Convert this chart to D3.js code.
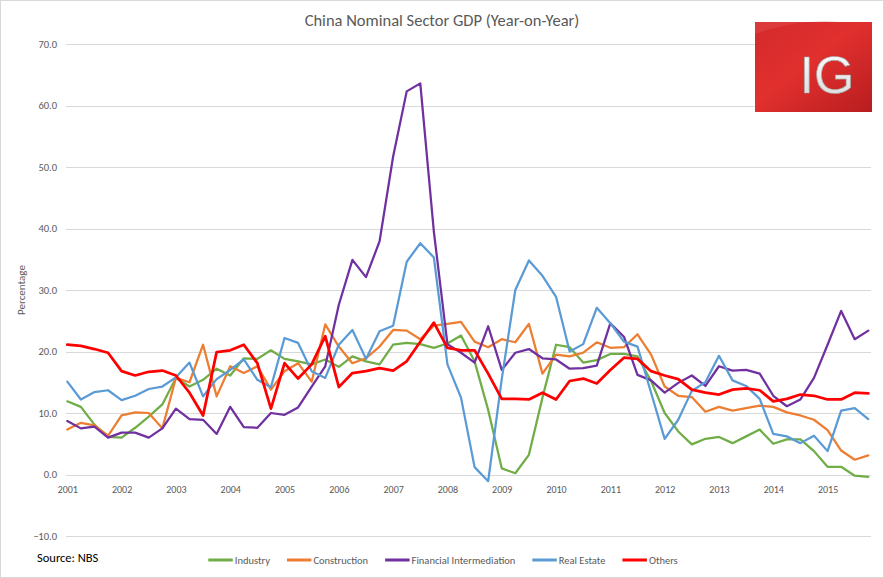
<!DOCTYPE html>
<html>
<head>
<meta charset="utf-8">
<script src="https://cdn.jsdelivr.net/npm/d3@7/dist/d3.min.js"></script>
<style>
  html, body { margin: 0; padding: 0; background: #ffffff; }
  svg { display: block; }
  text { font-family: Carlito, Calibri, Lato, sans-serif; }
</style>
</head>
<body>
<svg id="chart" width="884" height="578"></svg>
<script>
// ---------- data ----------
const years = ["2001","2002","2003","2004","2005","2006","2007","2008","2009","2010","2011","2012","2013","2014","2015"];
const quarters = ["Q1","Q2","Q3","Q4"];
const yTicks = [-10, 0, 10, 20, 30, 40, 50, 60, 70];

const industry = [
  11.9, 11.0, 8.1, 6.1,   6.0, 7.6, 9.4, 11.4,   15.7, 14.3, 15.4, 17.2,
  16.1, 18.9, 18.8, 20.2, 18.8, 18.4, 17.9, 18.7, 17.5, 19.2, 18.4, 17.9,
  21.1, 21.4, 21.2, 20.6, 21.3, 22.6, 18.4, 10.5, 1.0, 0.2, 3.2, 12.5,
  21.1, 20.7, 18.2, 18.6, 19.6, 19.6, 19.2, 15.2, 10.0, 7.0, 4.9, 5.8,
  6.1, 5.1, 6.2, 7.3,     5.0, 5.7, 5.7, 3.8,     1.25, 1.25, -0.2, -0.4
];
const construction = [
  7.3, 8.4, 8.0, 6.3,     9.6, 10.1, 10.0, 7.5,   15.7, 15.0, 21.1, 12.7,
  17.6, 16.5, 17.6, 13.8, 16.8, 18.1, 15.1, 24.4, 20.8, 18.1, 18.9, 20.8,
  23.5, 23.4, 22.0, 24.2, 24.5, 24.8, 21.6, 20.7, 22.0, 21.5, 24.5, 16.4,
  19.5, 19.2, 19.8, 21.5, 20.6, 20.7, 22.8, 19.5, 14.3, 12.8, 12.6, 10.2,
  11.0, 10.4, 10.8, 11.2, 11.0, 10.1, 9.6, 8.9,   7.2, 3.9, 2.4, 3.1
];
const financial = [
  8.7, 7.5, 7.8, 6.0,     6.8, 6.8, 6.0, 7.5,     10.7, 9.0, 8.9, 6.6,
  11.0, 7.7, 7.6, 10.0,   9.7, 10.9, 14.3, 17.6,  27.6, 34.9, 32.1, 37.9,
  51.7, 62.3, 63.6, 39.5, 21.2, 19.8, 18.2, 24.1, 17.0, 19.8, 20.4, 18.9,
  18.7, 17.2, 17.3, 17.7, 24.6, 22.4, 16.2, 15.3, 13.3, 14.9, 16.1, 14.4,
  17.6, 16.9, 17.0, 16.4, 12.8, 11.1, 12.2, 15.7, 21.1, 26.6, 22.0, 23.4
];
const realEstate = [
  15.1, 12.2, 13.4, 13.7, 12.1, 12.8, 13.9, 14.3, 15.8, 18.2, 12.7, 15.5,
  17.0, 18.7, 15.4, 14.2, 22.2, 21.4, 16.8, 15.7, 21.1, 23.5, 18.8, 23.3,
  24.2, 34.6, 37.6, 35.3, 17.9, 12.5, 1.2, -1.1,  15.5, 30.0, 34.8, 32.3,
  28.9, 20.0, 21.2, 27.1, 24.6, 21.6, 20.8, 13.3, 5.8, 8.9, 13.6, 15.0,
  19.3, 15.3, 14.4, 12.3, 6.6, 6.2, 5.1, 6.3,     3.8, 10.4, 10.8, 9.0
];
const others = [
  21.1, 20.9, 20.4, 19.8, 16.8, 16.1, 16.7, 16.9, 16.1, 13.3, 9.6, 19.9,
  20.2, 21.1, 18.1, 10.7, 18.1, 15.6, 17.9, 22.5, 14.2, 16.5, 16.8, 17.3,
  16.9, 18.4, 21.6, 24.7, 20.6, 20.2, 20.2, 16.4, 12.3, 12.3, 12.2, 13.3,
  12.2, 15.2, 15.6, 14.8, 17.0, 19.0, 18.8, 16.8, 16.1, 15.5, 13.8, 13.3,
  13.0, 13.8, 14.0, 13.7, 11.9, 12.3, 13.0, 12.8, 12.2, 12.2, 13.3, 13.2
];
const seriesNames = ["Industry", "Construction", "Financial Intermediation", "Real Estate", "Others"];
const seriesValues = [industry, construction, financial, realEstate, others];
const seriesColors = ["#70ad47", "#ed7d31", "#7030a0", "#5b9bd5", "#ff0000"];
const seriesWidths = [2.25, 2.25, 2.25, 2.25, 2.75];

// categories: one per quarter
const categories = [];
years.forEach(y => quarters.forEach(q => categories.push(y + q)));

// ---------- chart ----------
const svg = d3.select("#chart");
const textColor = "#595959";

svg.append("rect")
  .attr("x", 0.5).attr("y", 0.5).attr("width", 883).attr("height", 577)
  .attr("fill", "#ffffff").attr("stroke", "#d9d9d9").attr("stroke-width", 1);

const x = d3.scalePoint().domain(categories).range([67.3, 868.3]);
const y = d3.scaleLinear().domain([-10, 70]).range([536, 44]);

// gridlines
svg.append("g").selectAll("line").data(yTicks).join("line")
  .attr("x1", 66).attr("x2", 871)
  .attr("y1", d => Math.round(y(d)) + 0.5).attr("y2", d => Math.round(y(d)) + 0.5)
  .attr("stroke", "#d9d9d9").attr("stroke-width", 1);

// y axis labels
const yAxis = d3.axisLeft(y).tickValues(yTicks).tickFormat(d3.format(".1f")).tickSize(0).tickPadding(9);
const gy = svg.append("g").attr("transform", "translate(66,0)").call(yAxis);
gy.select(".domain").remove();
gy.selectAll("text").attr("fill", textColor).style("font-size", "10.5px").style("font-family", "Carlito, Calibri, Lato, sans-serif");

// x axis labels (at the zero line)
const xAxis = d3.axisBottom(x)
  .tickValues(categories.filter(c => c.endsWith("Q1")))
  .tickFormat(c => c.slice(0, 4))
  .tickSize(0).tickPadding(11);
const gx = svg.append("g").attr("transform", `translate(0,${y(0)})`).call(xAxis);
gx.select(".domain").remove();
gx.selectAll("text").attr("fill", textColor).style("font-size", "10px").style("font-family", "Carlito, Calibri, Lato, sans-serif");

// lines
const line = d3.line().x((d, i) => x(categories[i])).y(d => y(d));
seriesValues.forEach((vals, k) => {
  svg.append("path")
    .datum(vals)
    .attr("d", line)
    .attr("fill", "none")
    .attr("stroke", seriesColors[k])
    .attr("stroke-width", seriesWidths[k])
    .attr("stroke-linejoin", "round")
    .attr("stroke-linecap", "round");
});

// title
svg.append("text")
  .attr("x", 442).attr("y", 26)
  .attr("text-anchor", "middle")
  .attr("fill", textColor)
  .style("font-size", "16.5px")
  .text("China Nominal Sector GDP (Year-on-Year)");

// y axis title
svg.append("text")
  .attr("transform", "translate(25,290) rotate(-90)")
  .attr("text-anchor", "middle")
  .attr("fill", textColor)
  .style("font-size", "11px")
  .text("Percentage");

// source
svg.append("text")
  .attr("x", 37).attr("y", 562)
  .attr("fill", "#000000")
  .style("font-size", "12.5px")
  .text("Source: NBS");

// legend
const legend = svg.append("g");
const items = legend.selectAll("g").data(seriesNames).join("g");
items.append("line")
  .attr("x1", 0).attr("x2", 24.5).attr("y1", 0).attr("y2", 0)
  .attr("stroke", (d, i) => seriesColors[i]).attr("stroke-width", 3);
items.append("text")
  .attr("x", 26.5).attr("y", 0).attr("dy", "0.35em")
  .attr("fill", textColor)
  .style("font-size", "10.5px")
  .text(d => d);
const widths = [];
items.each(function () {
  const w = 26.5 + d3.select(this).select("text").node().getComputedTextLength();
  widths.push(w);
});
const totalW = d3.sum(widths) + 17 * (widths.length - 1);
let cx = 443 - totalW / 2;
items.attr("transform", (d, i) => {
  const t = `translate(${cx},560)`;
  cx += widths[i] + 17;
  return t;
});

// IG logo
const defs = svg.append("defs");
const grad = defs.append("linearGradient").attr("id", "igGrad")
  .attr("x1", "0").attr("y1", "0").attr("x2", "1").attr("y2", "1");
grad.append("stop").attr("offset", "0%").attr("stop-color", "#d3292b");
grad.append("stop").attr("offset", "45%").attr("stop-color", "#e1302e");
grad.append("stop").attr("offset", "100%").attr("stop-color", "#b81d1f");
const letterGrad = defs.append("linearGradient").attr("id", "igLetter")
  .attr("x1", "0").attr("y1", "0").attr("x2", "0").attr("y2", "1");
letterGrad.append("stop").attr("offset", "0%").attr("stop-color", "#ffffff");
letterGrad.append("stop").attr("offset", "100%").attr("stop-color", "#d8d8d8");
svg.append("rect")
  .attr("x", 755).attr("y", 22).attr("width", 117).attr("height", 90)
  .attr("fill", "url(#igGrad)");
svg.append("path")
  .attr("d", "M755,34 Q800,18 840,22 L755,22 Z")
  .attr("fill", "#e85a55").attr("opacity", 0.35);
svg.append("text")
  .attr("x", 827).attr("y", 93)
  .attr("text-anchor", "middle")
  .attr("fill", "url(#igLetter)")
  .attr("stroke", "#a0a0a0").attr("stroke-width", 0.7)
  .style("font-family", "'Liberation Sans', Arial, sans-serif")
  .style("font-size", "52px")
  .text("IG");
</script>
</body>
</html>
